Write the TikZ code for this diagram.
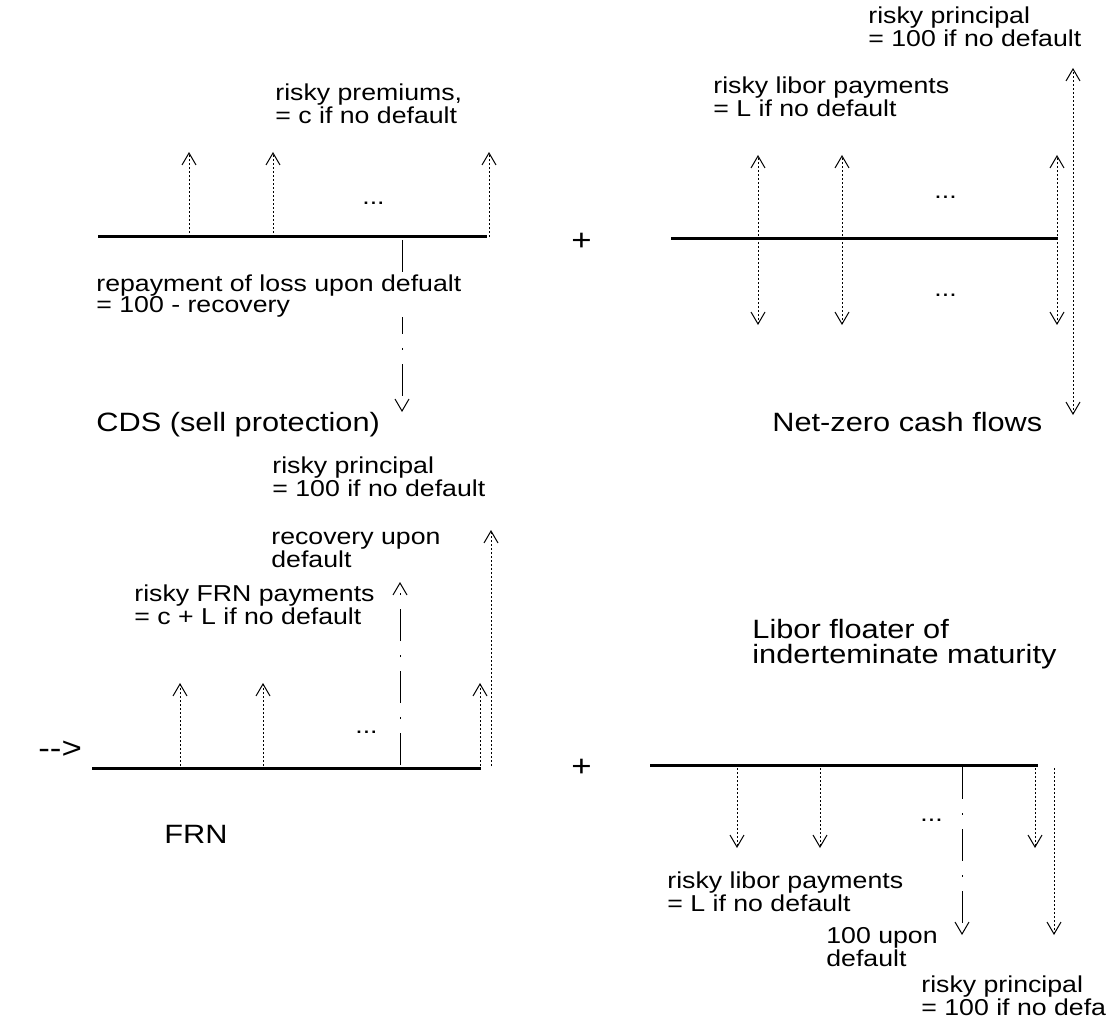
\documentclass[tikz,border=0pt]{standalone}
\usepackage{fontspec}
\setmainfont{Liberation Sans}[FakeStretch=1.16]
\usetikzlibrary{arrows.meta,positioning}

\begin{document}
\begin{tikzpicture}[x=0.5pt,y=-0.5pt,>={Straight Barb[length=6pt,width=7pt]}, every node/.style={inner sep=0pt, anchor=west, align=left, font=\fontsize{11.5}{10.5}\selectfont}]
\tikzstyle{axis}=[line width=1.5pt]
\tikzstyle{flow}=[->, line width=0.5pt, dash pattern=on 1pt off 1pt]
\tikzstyle{jump}=[->, line width=0.5pt, dash pattern=on 16pt off 7pt on 1pt off 7pt]
\tikzstyle{big}=[font=\fontsize{13.25}{12.2}\selectfont]
\tikzstyle{sign}=[font=\fontsize{15}{15}\selectfont]
\useasboundingbox (0,0) rectangle (1107,1026);

% CDS (sell protection)
\coordinate (cdsL) at (98,237);
\coordinate (cdsR) at (487,237);
\draw[axis] (cdsL) -- (cdsR);
\foreach \x [count=\i] in {189,273,489} {
  \coordinate (cdsB\i) at (\x,237);
  \coordinate (cdsT\i) at (\x,152);
  \draw[flow] (cdsB\i) -- (cdsT\i);
}
\coordinate (cdsD) at (402,240);
\coordinate (cdsDend) at (402,412);
\draw[jump] (cdsD) -- (cdsDend);
\node (cdsdots) at (362,203) {...};
\node (prem) at (275,104) {risky premiums,\\= c if no default};
\node[fill=white] (loss) at (96,296) {repayment of loss upon defualt\\= 100 - recovery};
\node[big] (cds) at (96,425) {CDS (sell protection)};
\node[sign] (plus1) at (571,242) {+};

% Net-zero cash flows
\coordinate (nzL) at (671,239);
\coordinate (nzR) at (1058,239);
\draw[axis] (nzL) -- (nzR);
\foreach \x [count=\i] in {758,842,1057} {
  \coordinate (nzT\i) at (\x,155);
  \coordinate (nzB\i) at (\x,325);
  \draw[flow,<->] (nzB\i) -- (nzT\i);
}
\coordinate (nzPT) at (1073,68);
\coordinate (nzPB) at (1073,415);
\draw[flow,<->] (nzPB) -- (nzPT);
\node (nzdots1) at (934,197) {...};
\node (nzdots2) at (934,295) {...};
\node (nzprin) at (868,27) {risky principal\\= 100 if no default};
\node (nzlib) at (713,97) {risky libor payments\\= L if no default};
\node[big] (nz) at (772,422) {Net-zero cash flows};

% FRN
\node[sign] (implies) at (38,750) {-{}-{}>};
\coordinate (frnL) at (92,768);
\coordinate (frnR) at (481,768);
\draw[axis] (frnL) -- (frnR);
\foreach \x [count=\i] in {180,263,480} {
  \coordinate (frnB\i) at (\x,766);
  \coordinate (frnT\i) at (\x,683);
  \draw[flow] (frnB\i) -- (frnT\i);
}
\coordinate (frnPB) at (491,766);
\coordinate (frnPT) at (491,530);
\draw[flow] (frnPB) -- (frnPT);
\coordinate (frnRB) at (400,765);
\coordinate (frnRT) at (400,582);
\draw[jump] (frnRB) -- (frnRT);
\node (frndots) at (355,732) {...};
\node (frnprin) at (272,477) {risky principal\\= 100 if no default};
\node (frnrec) at (271,550) {recovery upon\\default};
\node (frnpay) at (134,605) {risky FRN payments\\= c + L if no default};
\node[big] (frn) at (164,834) {FRN};
\node[sign] (plus2) at (571,768) {+};

% Libor floater
\node[big] (flt) at (752,644) {Libor floater of\\inderteminate maturity};
\coordinate (fltL) at (650,765);
\coordinate (fltR) at (1038,765);
\draw[axis] (fltL) -- (fltR);
\foreach \x [count=\i] in {737,820,1035} {
  \coordinate (fltT\i) at (\x,768);
  \coordinate (fltB\i) at (\x,848);
  \draw[flow] (fltT\i) -- (fltB\i);
}
\coordinate (fltDT) at (962,767);
\coordinate (fltDB) at (962,935);
\draw[jump] (fltDT) -- (fltDB);
\coordinate (fltPT) at (1054,768);
\coordinate (fltPB) at (1054,935);
\draw[flow] (fltPT) -- (fltPB);
\node (fltdots) at (920,820) {...};
\node (fltlib) at (667,892) {risky libor payments\\= L if no default};
\node (fltdef) at (826,947) {100 upon\\default};
\node (fltprin) at (921,996) {risky principal\\= 100 if no defa};
\end{tikzpicture}
\end{document}
